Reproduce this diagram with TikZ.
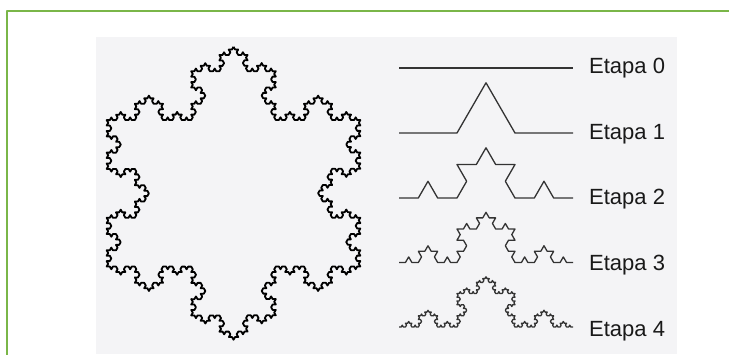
\documentclass[tikz,border=0pt]{standalone}
\usepackage{fontspec}
\setmainfont{Liberation Sans}
\usetikzlibrary{decorations.fractals}

\definecolor{framegreen}{RGB}{122,182,72}
\definecolor{paper}{RGB}{244,244,246}

\begin{document}
\begin{tikzpicture}[x=1pt, y=1pt, line join=round,
    decoration=Koch snowflake,
    stage/.style={line width=1.3pt, black!80},
    flake/.style={line width=1.8pt, black},
    etapa/.style={anchor=base west, inner sep=0pt, text=black!90,
        font=\fontsize{22}{26}\selectfont}]
        \useasboundingbox (0,0) rectangle (729,354);

        % Frame and scanned page
        \fill[paper] (96,0) rectangle (677,317);
        \draw[framegreen, line width=2.5pt] (7,-10) -- (7,343) -- (740,343);

        % Snowflake
        \begin{scope}[shift={(233.5,160.7)}]
            \draw[flake] decorate{decorate{decorate{decorate{
                (90:146.5) -- (-30:146.5) -- (210:146.5) -- (90:146.5)}}}};
        \end{scope}

        % Stages
        \draw[stage] (399,286) -- (573,286);
        \draw[stage] decorate{(399,221) -- (573,221)};
        \draw[stage] decorate{decorate{(399,156) -- (573,156)}};
        \draw[stage] decorate{decorate{decorate{(399,91.5) -- (573,91.5)}}};
        \draw[stage] decorate{decorate{decorate{decorate{(399,27) -- (573,27)}}}};

        % Labels
        \node[etapa] (e0) at (589,280) {Etapa 0};
        \node[etapa] (e1) at (589,214.5) {Etapa 1};
        \node[etapa] (e2) at (589,149) {Etapa 2};
        \node[etapa] (e3) at (589,83.5) {Etapa 3};
        \node[etapa] (e4) at (589,18) {Etapa 4};
\end{tikzpicture}
\end{document}
